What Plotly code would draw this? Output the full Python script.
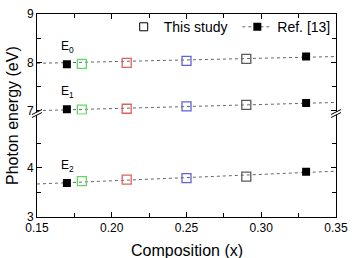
import plotly.graph_objects as go

# ---- data ----
study_x = [0.18, 0.21, 0.25, 0.29]
study_colors = ["#5fd95f", "#e06060", "#6060dd", "#5a5a5a"]
study_E0 = [7.97, 7.99, 8.03, 8.07]
study_E1 = [7.02, 7.04, 7.09, 7.12]
study_E2 = [3.73, 3.76, 3.79, 3.82]

ref_x = [0.17, 0.33]
ref_E0 = [7.96, 8.12]
ref_E1 = [7.03, 7.16]
ref_E2 = [3.69, 3.92]

fit_x = [0.15, 0.35]
fit_E0 = [7.98, 8.12]
fit_E1 = [7.00, 7.17]
fit_E2 = [3.67, 3.93]

labels = ["E<sub>0</sub>", "E<sub>1</sub>", "E<sub>2</sub>"]

x_ticks = [0.15, 0.20, 0.25, 0.30, 0.35]
x_ticklabels = ["0.15", "0.20", "0.25", "0.30", "0.35"]
upper_ticks = [7, 8, 9]
lower_ticks = [3, 4]

FONT = "Arial, Liberation Sans, sans-serif"
fig = go.Figure()

series = [
    (fit_E0, study_E0, ref_E0, "x2", "y2"),
    (fit_E1, study_E1, ref_E1, "x2", "y2"),
    (fit_E2, study_E2, ref_E2, "x", "y"),
]
for fit_y, st_y, rf_y, xa, ya in series:
    fig.add_trace(go.Scatter(x=fit_x, y=fit_y, mode="lines", xaxis=xa, yaxis=ya,
                             line=dict(color="#666666", width=1, dash="dot"),
                             showlegend=False, hoverinfo="skip"))
    fig.add_trace(go.Scatter(x=ref_x, y=rf_y, mode="markers", xaxis=xa, yaxis=ya,
                             marker=dict(symbol="square", size=8, color="black"),
                             showlegend=False))
    fig.add_trace(go.Scatter(x=study_x, y=st_y, mode="markers", xaxis=xa, yaxis=ya,
                             marker=dict(symbol="square-open", size=9, color=study_colors,
                                         line=dict(width=1.3)),
                             showlegend=False))

# legend entries
fig.add_trace(go.Scatter(x=[None], y=[None], mode="markers", name="This study", legend="legend",
                         marker=dict(symbol="square-open", size=8, color="black",
                                     line=dict(width=1))))
fig.add_trace(go.Scatter(x=[None], y=[None], mode="lines+markers", name="Ref. [13]", legend="legend2",
                         line=dict(color="#666666", width=1, dash="dot"),
                         marker=dict(symbol="square", size=8, color="black")))

# E labels
for lab, rf_y, xa, ya in zip(labels, [ref_E0, ref_E1, ref_E2], ["x2", "x2", "x"], ["y2", "y2", "y"]):
    fig.add_annotation(x=ref_x[0], y=rf_y[0], xref=xa, yref=ya, text=lab, showarrow=False,
                       yanchor="bottom", xanchor="center", yshift=7, xshift=1,
                       font=dict(family=FONT, size=12, color="black"))

brk = 0.5048
axis_common = dict(showgrid=False, zeroline=False, showline=True, linecolor="black",
                   linewidth=1, ticks="inside", ticklen=5, tickcolor="black",
                   tickfont=dict(family=FONT, size=12, color="black"))

leg_common = dict(orientation="h", yanchor="middle", xanchor="left",
                  font=dict(family=FONT, size=14, color="black"), bgcolor="rgba(0,0,0,0)")

fig.update_layout(
    width=355, height=258,
    margin=dict(l=37, r=13, t=7, b=41),
    paper_bgcolor="white", plot_bgcolor="white",
    xaxis=dict(**axis_common, domain=[0, 1], anchor="y", range=[0.15, 0.35],
               tickvals=x_ticks, ticktext=x_ticklabels,
               minor=dict(tickvals=[0.175, 0.225, 0.275, 0.325], ticks="inside", ticklen=4,
                          tickcolor="black")),
    xaxis2=dict(**axis_common, domain=[0, 1], anchor="y2", side="top", range=[0.15, 0.35],
                tickvals=x_ticks, showticklabels=False, matches="x",
                minor=dict(tickvals=[0.175, 0.225, 0.275, 0.325], ticks="inside", ticklen=4,
                           tickcolor="black")),
    yaxis=dict(**axis_common, domain=[0, brk], anchor="x", range=[3, 5.08], mirror="ticks",
               tickvals=lower_ticks,
               minor=dict(tickvals=[3.5, 4.5], ticks="inside", ticklen=4, tickcolor="black")),
    yaxis2=dict(**axis_common, domain=[brk, 1], anchor="x2", range=[6.92, 9], mirror="ticks",
                tickvals=upper_ticks,
                minor=dict(tickvals=[7.5, 8.5], ticks="inside", ticklen=4, tickcolor="black")),
    legend=dict(**leg_common, x=0.29, y=0.935),
    legend2=dict(**leg_common, x=0.67, y=0.935),
    annotations=list(fig.layout.annotations) + [
        dict(text="Photon energy (eV)", xref="paper", yref="paper", x=-0.082, y=0.5,
             textangle=-90, showarrow=False, xanchor="center", yanchor="middle",
             font=dict(family=FONT, size=16, color="black")),
        dict(text="Composition (x)", xref="paper", yref="paper", x=0.5, y=-0.163,
             showarrow=False, xanchor="center", yanchor="middle",
             font=dict(family=FONT, size=16, color="black")),
    ],
)

# axis-break marks on both vertical axes
for xp in [0, 1]:
    fig.add_shape(type="path", xref="paper", yref="paper", xsizemode="pixel", ysizemode="pixel",
                  xanchor=xp, yanchor=brk, path="M-5,-3 L5,2 L5,5 L-5,0 Z",
                  fillcolor="white", line=dict(width=0))
    for off in [-3, 0]:
        fig.add_shape(type="line", xref="paper", yref="paper", xsizemode="pixel", ysizemode="pixel",
                      xanchor=xp, yanchor=brk, x0=-5, x1=5, y0=off, y1=off + 5,
                      line=dict(color="black", width=1))

fig.write_html("out.html")
